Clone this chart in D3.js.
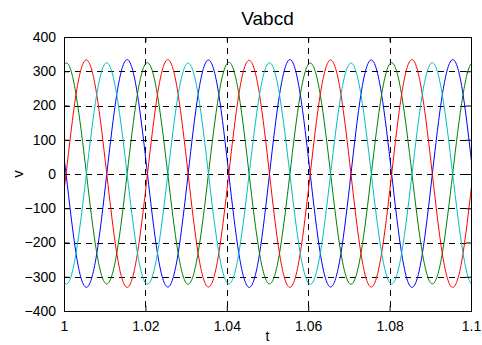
<!DOCTYPE html>
<html>
<head>
<meta charset="utf-8">
<script src="https://cdn.jsdelivr.net/npm/d3@7"></script>
<style>
  body { margin: 0; background: #fff; }
  svg { display: block; font-family: "Liberation Sans", Arial, Helvetica, sans-serif; }
</style>
</head>
<body>
<script>
// sample times (s) and phase voltages
var times = [0.998, 1.0005, 1.003, 1.0055, 1.008, 1.0105, 1.013, 1.0155, 1.018, 1.0205,
  1.023, 1.0255, 1.028, 1.0305, 1.033, 1.0355, 1.038, 1.0405, 1.043, 1.0455,
  1.048, 1.0505, 1.053, 1.0555, 1.058, 1.0605, 1.063, 1.0655, 1.068, 1.0705,
  1.073, 1.0755, 1.078, 1.0805, 1.083, 1.0855, 1.088, 1.0905, 1.093, 1.0955,
  1.098, 1.1005, 1.103];

var vBlue = [235, 0, -235, -331, -236, -1, 235, 334, 236, 1, -234, -330, -235, 0, 236, 333,
  235, -1, -235, -331, -236, 1, 235, 334, 236, 0, -234, -330, -235, -1, 236, 333,
  235, 1, -235, -331, -236, 0, 235, 334, 236, -1, -235];
var vGreen = [228, 324, 229, 2, -227, -321, -229, -1, 230, 325, 228, 0, -228, -322, -227, 1,
  229, 326, 230, -2, -229, -321, -228, 0, 228, 324, 229, 1, -228, -322, -229, -1,
  229, 325, 228, 0, -227, -321, -228, 1, 229, 324, 228];
var vRed = [-236, 0, 236, 333, 235, 1, -234, -331, -235, -1, 235, 334, 236, 0, -235, -330,
  -234, 1, 236, 332, 235, -1, -236, -331, -235, 0, 235, 333, 236, 1, -235, -330,
  -234, -1, 236, 334, 235, 0, -236, -331, -235, 1, 235];
var vCyan = [-227, -321, -228, 0, 229, 325, 228, 1, -228, -322, -229, -1, 228, 324, 229, 0,
  -227, -321, -228, 1, 229, 325, 228, -1, -228, -322, -229, 0, 228, 324, 229, 1,
  -227, -321, -228, -1, 229, 325, 228, 0, -228, -322, -229];

var xTicks = [1, 1.02, 1.04, 1.06, 1.08, 1.1];
var yTicks = [-400, -300, -200, -100, 0, 100, 200, 300, 400];

var series = [
  {name: "a", values: vBlue, color: "#0000ff"},
  {name: "b", values: vGreen, color: "#008000"},
  {name: "c", values: vRed, color: "#ff0000"},
  {name: "d", values: vCyan, color: "#00bfbf"}
];

var totalWidth = 482, totalHeight = 345;
var margin = {top: 37, right: 11, bottom: 34, left: 64};
var width = totalWidth - margin.left - margin.right;
var height = totalHeight - margin.top - margin.bottom;

var svg = d3.select("body").append("svg")
    .attr("width", totalWidth)
    .attr("height", totalHeight);

var x = d3.scaleLinear().domain([1, 1.1]).range([0, width]);
var y = d3.scaleLinear().domain([-400, 400]).range([height, 0]);

svg.append("defs").append("clipPath").attr("id", "plot")
  .append("rect").attr("width", width).attr("height", height);

var g = svg.append("g")
    .attr("transform", "translate(" + margin.left + "," + margin.top + ")");

// grid
g.append("g").selectAll("line")
    .data(yTicks.slice(1, -1))
    .enter().append("line")
      .attr("x1", 0).attr("x2", width)
      .attr("y1", function(d) { return Math.round(y(d)) + 0.5; })
      .attr("y2", function(d) { return Math.round(y(d)) + 0.5; })
      .attr("stroke", "#000").attr("stroke-width", 1)
      .attr("stroke-dasharray", "6,5");

g.append("g").selectAll("line")
    .data(xTicks.slice(1, -1))
    .enter().append("line")
      .attr("y1", 0).attr("y2", height)
      .attr("x1", function(d) { return Math.round(x(d)) + 0.5; })
      .attr("x2", function(d) { return Math.round(x(d)) + 0.5; })
      .attr("stroke", "#000").attr("stroke-width", 1)
      .attr("stroke-dasharray", "6,5");

// waves
var line = d3.line()
    .x(function(d, i) { return x(times[i]); })
    .y(function(d) { return y(d); })
    .curve(d3.curveNatural);

g.append("g").attr("clip-path", "url(#plot)")
  .selectAll("path")
  .data(series)
  .enter().append("path")
    .attr("d", function(s) { return line(s.values); })
    .attr("fill", "none")
    .attr("stroke", function(s) { return s.color; })
    .attr("stroke-width", 1);

// axes, ticks inside on all four sides
var fmtX = function(d) { return d3.format("")(+d.toFixed(2)); };

g.append("g")
    .attr("transform", "translate(0," + height + ")")
    .call(d3.axisBottom(x).tickValues(xTicks).tickSize(-5).tickPadding(10).tickFormat(fmtX));
g.append("g")
    .call(d3.axisTop(x).tickValues(xTicks).tickSize(-5).tickFormat(""));
g.append("g")
    .call(d3.axisLeft(y).tickValues(yTicks).tickSize(-5).tickPadding(8));
g.append("g")
    .attr("transform", "translate(" + width + ",0)")
    .call(d3.axisRight(y).tickValues(yTicks).tickSize(-5).tickFormat(""));

svg.selectAll(".domain").attr("stroke", "#000");
svg.selectAll(".tick line").attr("stroke", "#000");
svg.selectAll(".tick text")
    .attr("fill", "#000")
    .style("font-size", "14px")
    .style("font-family", "'Liberation Sans', Arial, sans-serif");

// titles
svg.append("text")
    .attr("x", margin.left + width / 2)
    .attr("y", 25)
    .attr("text-anchor", "middle")
    .style("font-size", "19px")
    .text("Vabcd");

svg.append("text")
    .attr("x", margin.left + width / 2)
    .attr("y", 341)
    .attr("text-anchor", "middle")
    .style("font-size", "14px")
    .text("t");

svg.append("text")
    .attr("transform", "translate(23," + (margin.top + height / 2) + ") rotate(-90)")
    .attr("text-anchor", "middle")
    .style("font-size", "15px")
    .text("v");
</script>
</body>
</html>
